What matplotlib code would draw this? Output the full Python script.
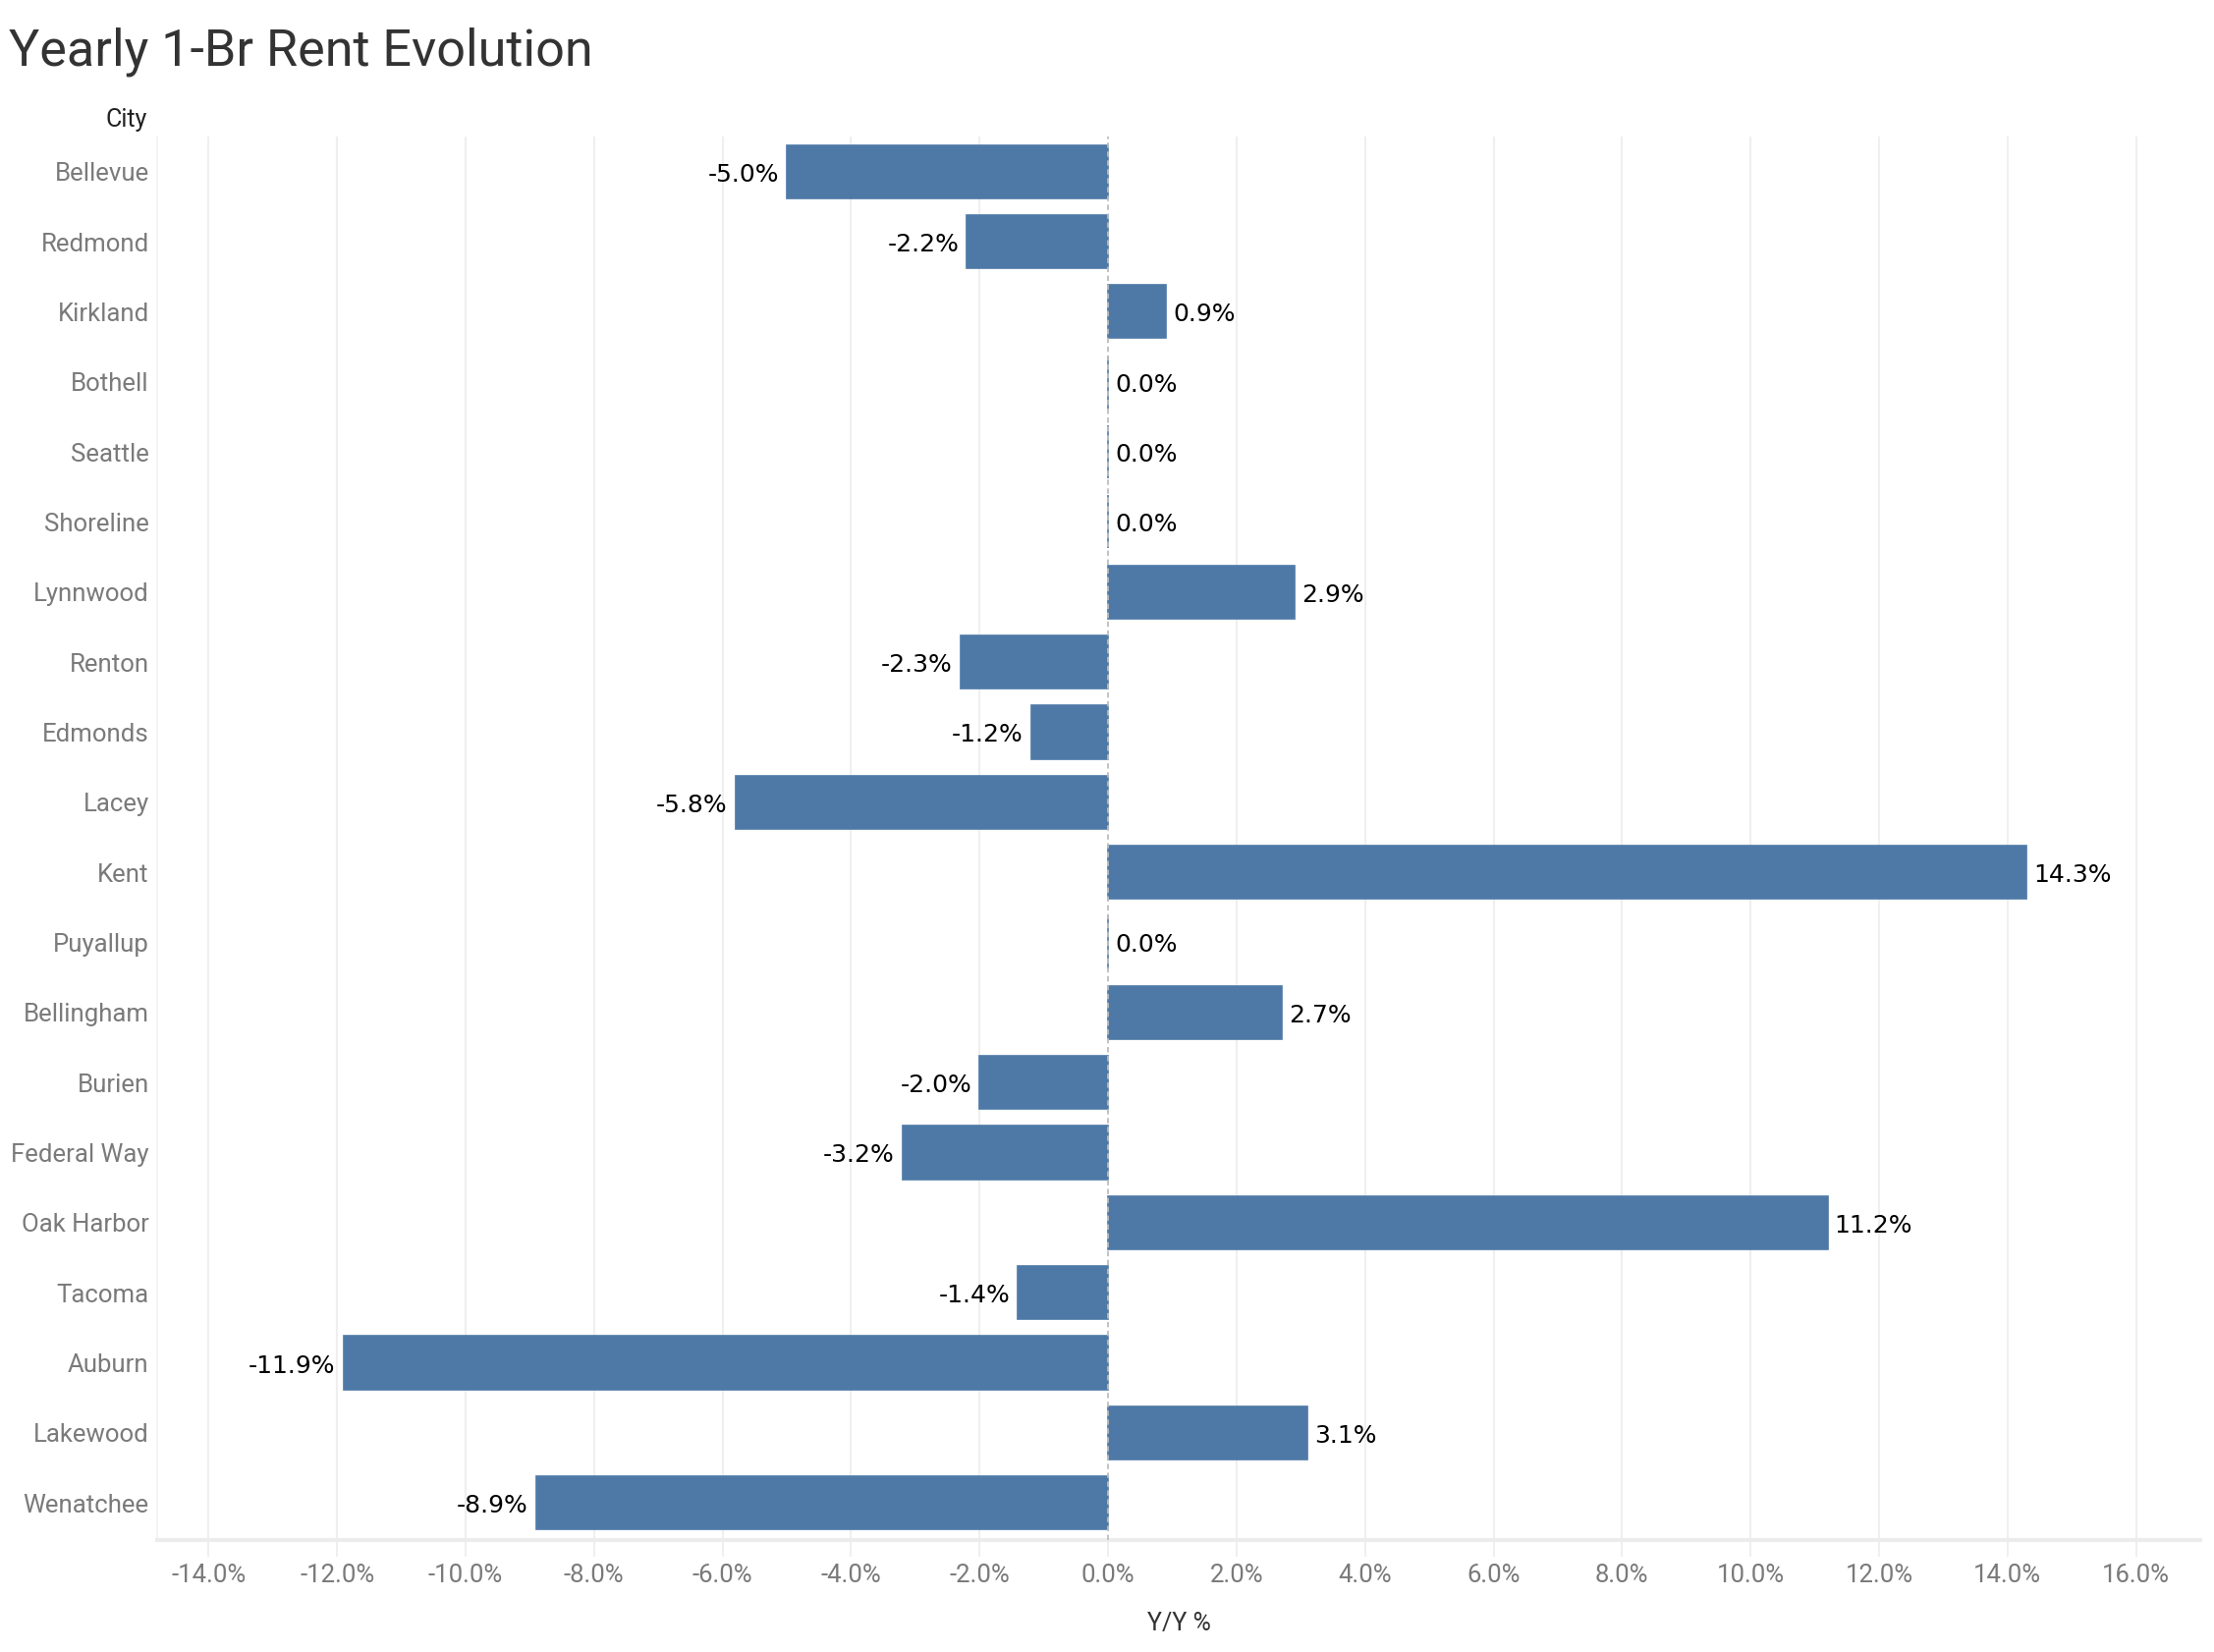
import matplotlib
matplotlib.use("Agg")
import matplotlib.pyplot as plt
from matplotlib import font_manager
from matplotlib.font_manager import FontProperties
from matplotlib.transforms import offset_copy

cities = ["Bellevue", "Redmond", "Kirkland", "Bothell", "Seattle", "Shoreline",
          "Lynnwood", "Renton", "Edmonds", "Lacey", "Kent", "Puyallup",
          "Bellingham", "Burien", "Federal Way", "Oak Harbor", "Tacoma",
          "Auburn", "Lakewood", "Wenatchee"]
yoy = [-5.0, -2.2, 0.9, 0.0, 0.0, 0.0, 2.9, -2.3, -1.2, -5.8, 14.3, 0.0,
       2.7, -2.0, -3.2, 11.2, -1.4, -11.9, 3.1, -8.9]
xticks = [-14, -12, -10, -8, -6, -4, -2, 0, 2, 4, 6, 8, 10, 12, 14, 16]
xticklabels = [f"{t:.1f}%" for t in xticks]

names = {f.name for f in font_manager.fontManager.ttflist}
base = "Roboto" if "Roboto" in names else "DejaVu Sans"


def fp(size, weight="normal"):
    return FontProperties(family=base, size=size, weight=weight)


W, H, DPI = 2254, 1682, 100
fig = plt.figure(figsize=(W / DPI, H / DPI), dpi=DPI)
ax = fig.add_axes([160 / W, 1 - 1568 / H, (2240 - 160) / W, (1568 - 139) / H])

bar_color = "#4e79a7"
ypos = list(range(len(cities)))
ax.barh(ypos, yoy, height=0.76, color=bar_color, edgecolor=bar_color,
        linewidth=1.2, zorder=3)

ax.set_xlim(-14.8, 17.0)
ax.set_ylim(len(cities) - 0.47, -0.5)

ax.set_xticks(xticks)
ax.set_xticklabels(xticklabels)
ax.set_yticks(ypos)
ax.set_yticklabels(cities)
for lab in ax.get_xticklabels() + ax.get_yticklabels():
    lab.set_fontproperties(fp(18.5))
    lab.set_color("#7a7a7a")
ax.tick_params(axis="y", length=0, pad=6)
ax.tick_params(axis="x", length=12, width=1.2, color="#ececec", pad=5)

for x in xticks:
    if x != 0:
        ax.axvline(x, color="#efefef", lw=1.5, zorder=1)
ax.axvline(0, color="#bdbdbd", lw=1.3, ls=(0, (3, 2)), zorder=4)

for s in ["top", "right"]:
    ax.spines[s].set_visible(False)
ax.spines["bottom"].set_color("#ececec")
ax.spines["bottom"].set_linewidth(3)
ax.spines["left"].set_color("#f2f2f2")
ax.spines["left"].set_linewidth(1.2)

for y, v in zip(ypos, yoy):
    if v >= 0:
        tr = offset_copy(ax.transData, fig=fig, x=7, y=-3, units="dots")
        ax.text(v, y, f"{v:.1f}%", transform=tr, ha="left", va="center",
                fontsize=18, color="black", fontfamily="DejaVu Sans")
    else:
        tr = offset_copy(ax.transData, fig=fig, x=-8, y=-3, units="dots")
        ax.text(v, y, f"{v:.1f}%", transform=tr, ha="right", va="center",
                fontsize=18, color="black", fontfamily="DejaVu Sans")

ax.set_xlabel("Y/Y %", fontproperties=fp(18), color="#333333", labelpad=18)

fig.text(9 / W, 1 - 53 / H, "Yearly 1-Br Rent Evolution", fontproperties=fp(37.5),
         color="#333333", ha="left", va="center")
fig.text(150 / W, 1 - 122 / H, "City", fontproperties=fp(18),
         color="#222222", ha="right", va="center")

fig.savefig("out.png", dpi=DPI, facecolor="white")
